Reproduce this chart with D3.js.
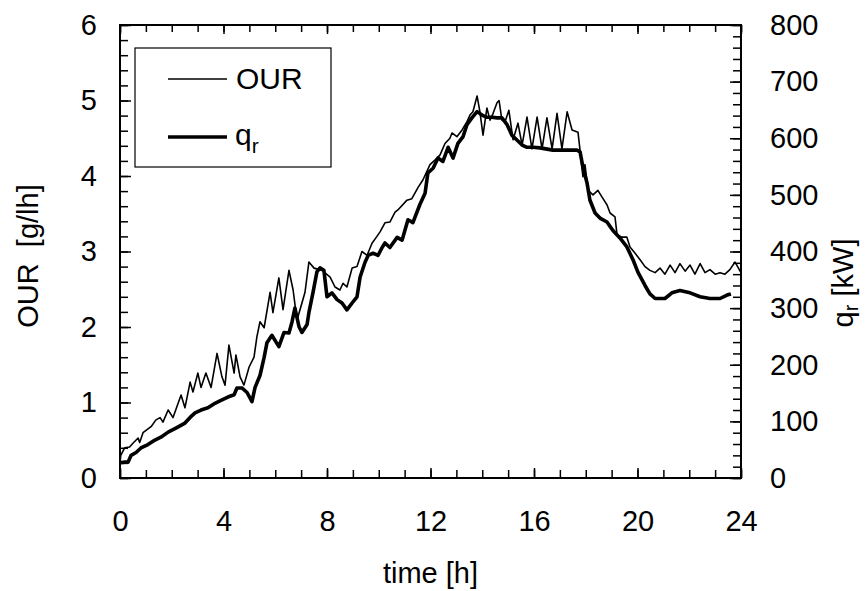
<!DOCTYPE html>
<html>
<head>
<meta charset="utf-8">
<script src="https://cdn.jsdelivr.net/npm/d3@7"></script>
<style>
  body { margin: 0; background: #fff; }
  svg text { font-family: "Liberation Sans", Arial, sans-serif; fill: #000; }
</style>
</head>
<body>
<svg id="chart"></svg>
<script>
// OUR, thin line (g/lh)
const ourTime = [0, 0.03, 0.18, 0.37, 0.5, 0.7, 0.76, 0.89, 1.2, 1.39, 1.55, 1.66, 1.86, 2.05, 2.36, 2.51, 2.71, 2.82, 3.01, 3.13,
  3.32, 3.52, 3.75, 3.94, 4.06, 4.21, 4.41, 4.48, 4.64, 4.79, 4.99, 5.18, 5.29, 5.41, 5.57, 5.8, 5.91, 6.14, 6.3, 6.53,
  6.69, 6.84, 7.15, 7.3, 7.5, 7.81, 8.12, 8.31, 8.5, 8.62, 8.77, 8.97, 9.16, 9.35, 9.55, 9.74, 9.93, 10.05, 10.24, 10.43,
  10.63, 10.74, 11.09, 11.28, 11.52, 11.71, 11.98, 12.17, 12.37, 12.56, 12.75, 12.83, 13.02, 13.22, 13.41, 13.53, 13.64, 13.8, 13.91, 14.03,
  14.18, 14.3, 14.42, 14.57, 14.65, 14.76, 14.88, 15.03, 15.19, 15.38, 15.54, 15.73, 15.92, 16.12, 16.31, 16.5, 16.7, 16.89, 17.08, 17.28,
  17.47, 17.7, 17.78, 17.89, 17.97, 18.09, 18.28, 18.47, 18.63, 18.82, 18.94, 19.13, 19.21, 19.4, 19.59, 19.71, 19.9, 20.1, 20.29, 20.48,
  20.68, 20.87, 21.06, 21.26, 21.45, 21.64, 21.84, 22.03, 22.22, 22.42, 22.61, 22.8, 23.0, 23.19, 23.38, 23.57, 23.77, 24.0];
const ourValue = [0.2, 0.3, 0.4, 0.41, 0.46, 0.53, 0.47, 0.6, 0.68, 0.77, 0.8, 0.74, 0.9, 0.8, 1.1, 0.93, 1.27, 1.14, 1.39, 1.2,
  1.39, 1.2, 1.65, 1.34, 1.23, 1.76, 1.39, 1.63, 1.34, 1.23, 1.47, 1.6, 1.87, 2.07, 1.99, 2.46, 2.19, 2.65, 2.23, 2.75,
  2.49, 2.09, 2.46, 2.86, 2.78, 2.75, 2.66, 2.53, 2.49, 2.58, 2.53, 2.78, 2.8, 3.0, 2.95, 3.11, 3.2, 3.26, 3.38, 3.39,
  3.52, 3.55, 3.68, 3.7, 3.85, 3.95, 4.15, 4.21, 4.28, 4.43, 4.5, 4.57, 4.52, 4.61, 4.72, 4.81, 4.85, 5.06, 4.85, 4.54,
  4.9, 4.74, 4.83, 4.97, 5.0, 4.74, 4.72, 4.87, 4.48, 4.7, 4.41, 4.78, 4.36, 4.78, 4.36, 4.77, 4.36, 4.83, 4.36, 4.85,
  4.61, 4.58, 4.34, 3.99, 4.15, 3.81, 3.75, 3.81, 3.72, 3.62, 3.51, 3.46, 3.22, 3.19, 3.19, 3.06, 2.98, 2.89, 2.8, 2.75,
  2.72, 2.78, 2.7, 2.82, 2.72, 2.84, 2.74, 2.82, 2.7, 2.84, 2.72, 2.76, 2.7, 2.72, 2.7, 2.76, 2.86, 2.72];

// q_r, thick line (kW)
const qrTime = [0, 0.19, 0.31, 0.43, 0.62, 0.81, 1.08, 1.35, 1.58, 1.86, 2.16, 2.51, 2.71, 2.9, 3.13, 3.4, 3.67, 3.9, 4.17, 4.41,
  4.52, 4.71, 4.91, 5.1, 5.22, 5.41, 5.57, 5.68, 5.87, 6.14, 6.34, 6.53, 6.65, 6.76, 6.92, 7.03, 7.23, 7.3, 7.46, 7.61,
  7.73, 7.88, 8.0, 8.19, 8.39, 8.58, 8.77, 8.97, 9.16, 9.28, 9.47, 9.59, 9.78, 9.97, 10.13, 10.24, 10.43, 10.71, 10.9, 11.13,
  11.32, 11.59, 11.79, 11.9, 12.1, 12.29, 12.48, 12.68, 12.87, 13.06, 13.26, 13.41, 13.6, 13.8, 13.99, 14.18, 14.38, 14.57, 14.76, 14.96,
  15.15, 15.34, 15.54, 15.73, 15.96, 16.23, 16.73, 17.28, 17.66, 17.78, 17.89, 18.05, 18.16, 18.36, 18.55, 18.82, 19.05, 19.32, 19.59, 19.83,
  20.02, 20.29, 20.48, 20.68, 21.06, 21.33, 21.64, 22.03, 22.42, 22.8, 23.19, 23.46, 23.61];
const qrValue = [27, 28, 28, 40, 45, 53, 59, 67, 72, 81, 88, 97, 107, 115, 120, 124, 132, 137, 143, 147,
  159, 159, 151, 135, 160, 181, 213, 239, 252, 232, 257, 256, 276, 300, 267, 257, 271, 292, 328, 364,
  371, 367, 320, 327, 315, 309, 297, 309, 320, 355, 381, 393, 397, 393, 407, 415, 407, 425, 420, 456,
  451, 483, 503, 539, 547, 565, 559, 584, 565, 591, 603, 624, 636, 647, 641, 637, 637, 636, 636, 624,
  605, 597, 588, 584, 584, 583, 579, 579, 579, 576, 549, 521, 491, 468, 459, 452, 437, 424, 408, 385,
  363, 340, 325, 317, 317, 327, 331, 327, 320, 317, 317, 323, 325];

const legendLabels = ['OUR', 'q'];

const W = 866, H = 591;
const mLeft = 120, mRight = 741, mTop = 25, mBottom = 478;

const svg = d3.select('#chart').attr('width', W).attr('height', H);

const x = d3.scaleLinear().domain([0, 24]).range([mLeft, mRight]);
const y = d3.scaleLinear().domain([0, 6]).range([mBottom, mTop]);
const yR = d3.scaleLinear().domain([0, 800]).range([mBottom, mTop]);

const fs = 29;

function ticks(axis, pos, vals, size) {
	const g = svg.append('g')
		.attr('transform', pos)
		.call(axis.tickValues(vals).tickSize(size).tickFormat(''));
	g.select('.domain').remove();
	g.selectAll('line').attr('stroke', '#000').attr('stroke-width', 1.5);
}

// minor and major ticks, all pointing inward
ticks(d3.axisTop(x), `translate(0,${mBottom})`, d3.range(0, 25, 1), 8);
ticks(d3.axisTop(x), `translate(0,${mBottom})`, d3.range(0, 25, 4), 10);
ticks(d3.axisBottom(x), `translate(0,${mTop})`, d3.range(0, 25, 1), 7);
ticks(d3.axisBottom(x), `translate(0,${mTop})`, d3.range(0, 25, 4), 9);
ticks(d3.axisRight(y), `translate(${mLeft},0)`, d3.range(0, 6.01, 0.2), 8);
ticks(d3.axisRight(y), `translate(${mLeft},0)`, d3.range(0, 7, 1), 11);
ticks(d3.axisLeft(yR), `translate(${mRight},0)`, d3.range(0, 801, 20), 8);
ticks(d3.axisLeft(yR), `translate(${mRight},0)`, d3.range(0, 801, 100), 11);

// labels
function labels(axis, pos, vals, pad) {
	const g = svg.append('g')
		.attr('transform', pos)
		.call(axis.tickValues(vals).tickSize(0).tickPadding(pad).tickFormat(d3.format('d')));
	g.select('.domain').remove();
	g.selectAll('text').attr('font-size', fs).attr('font-family', '"Liberation Sans", Arial, sans-serif');
}
labels(d3.axisBottom(x), `translate(0,${mBottom})`, d3.range(0, 25, 4), 32);
labels(d3.axisLeft(y), `translate(${mLeft},0)`, d3.range(0, 7, 1), 23);
labels(d3.axisRight(yR), `translate(${mRight},0)`, d3.range(0, 801, 100), 29);

// frame
svg.append('rect')
	.attr('x', mLeft).attr('y', mTop)
	.attr('width', mRight - mLeft).attr('height', mBottom - mTop)
	.attr('fill', 'none').attr('stroke', '#000').attr('stroke-width', 2);

// lines
const ourLine = d3.line().x((d, i) => x(ourTime[i])).y(d => y(d));
const qrLine = d3.line().x((d, i) => x(qrTime[i])).y(d => yR(d));

svg.append('path').datum(ourValue)
	.attr('d', ourLine).attr('fill', 'none').attr('stroke', '#000')
	.attr('stroke-width', 1.6).attr('stroke-linejoin', 'round');
svg.append('path').datum(qrValue)
	.attr('d', qrLine).attr('fill', 'none').attr('stroke', '#000')
	.attr('stroke-width', 3.6).attr('stroke-linejoin', 'round');

// axis titles
svg.append('text')
	.attr('transform', `translate(${(mLeft + mRight) / 2},583)`)
	.attr('text-anchor', 'middle').attr('font-size', fs)
	.text('time [h]');

svg.append('text')
	.attr('transform', 'translate(38,256) rotate(-90)')
	.attr('text-anchor', 'middle').attr('font-size', fs)
	.text('OUR\u00a0\u00a0[g/lh]');

const rt = svg.append('text')
	.attr('transform', 'translate(853,283) rotate(-90)')
	.attr('text-anchor', 'middle').attr('font-size', fs);
rt.append('tspan').text('q');
rt.append('tspan').attr('font-size', 20).attr('dy', 5).text('r');
rt.append('tspan').attr('dy', -5).text(' [kW]');

// legend
const lg = svg.append('g');
lg.append('rect')
	.attr('x', 135).attr('y', 48).attr('width', 196).attr('height', 119)
	.attr('fill', '#fff').attr('stroke', '#000').attr('stroke-width', 1.2);
lg.append('line').attr('x1', 168).attr('x2', 227).attr('y1', 79).attr('y2', 79)
	.attr('stroke', '#000').attr('stroke-width', 1.6);
lg.append('line').attr('x1', 168).attr('x2', 227).attr('y1', 137).attr('y2', 137)
	.attr('stroke', '#000').attr('stroke-width', 3.6);
lg.append('text').attr('x', 236).attr('y', 89).attr('font-size', 30).text(legendLabels[0]);
const q = lg.append('text').attr('x', 235).attr('y', 145).attr('font-size', 30);
q.append('tspan').text(legendLabels[1]);
q.append('tspan').attr('font-size', 21).attr('dy', 8).text('r');
</script>
</body>
</html>
